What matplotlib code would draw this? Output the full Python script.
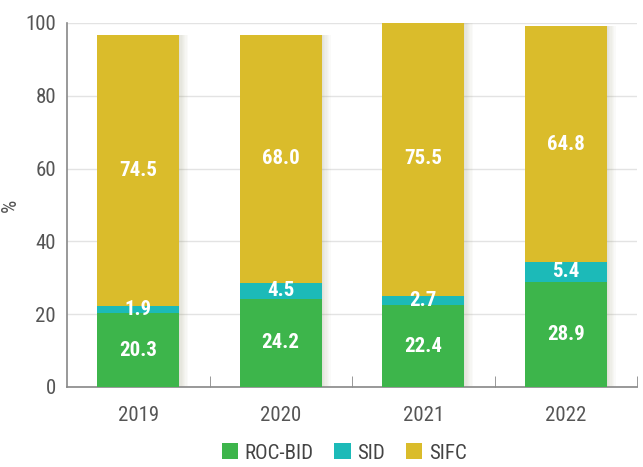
import matplotlib
matplotlib.use("Agg")
import matplotlib.pyplot as plt
from matplotlib import font_manager
import numpy as np

years = ["2019", "2020", "2021", "2022"]
roc_bid = [20.3, 24.2, 22.4, 28.9]
sid = [1.9, 4.5, 2.7, 5.4]
sifc = [74.5, 68.0, 75.5, 64.8]

series = [("ROC-BID", roc_bid, "#3db54b"),
          ("SID", sid, "#1cbab8"),
          ("SIFC", sifc, "#dabc2b")]

# pick a narrow font if one is installed
installed = {f.name for f in font_manager.fontManager.ttflist}
font = "DejaVu Sans"
for name in ["Liberation Sans Narrow", "Roboto Condensed", "Open Sans Condensed", "Roboto", "Noto Sans"]:
    if name in installed:
        font = name
        break
plt.rcParams["font.family"] = [font, "DejaVu Sans"]

gray = "#555555"
fig = plt.figure(figsize=(6.43, 4.67), dpi=100)
ax = fig.add_axes([67 / 643, 80 / 467, 570 / 643, 364 / 467])

x = np.arange(len(years))
width = 0.573
bottom = np.zeros(len(years))

for label, vals, color in series:
    vals = np.array(vals)
    # soft shadow to the right of each bar
    for k in range(1, 8):
        ax.bar(x + k * 0.009, vals, width, bottom=bottom, color="#8a8a60",
               alpha=0.035, linewidth=0, zorder=2)
    ax.bar(x, vals, width, bottom=bottom, color=color, label=label,
           linewidth=0, zorder=3)
    for xi, b, v in zip(x, bottom, vals):
        ax.text(xi, b + v / 2, f"{v:.1f}", ha="center", va="center",
                color="white", fontsize=15, fontweight="bold", zorder=4)
    bottom = bottom + vals

ax.set_xlim(-0.5, len(years) - 0.5)
ax.set_ylim(0, 100)
ax.set_yticks([0, 20, 40, 60, 80, 100])
ax.set_xticks(x)
ax.set_xticklabels(years)
ax.set_xticks(np.arange(-0.5, len(years), 1.0)[1:], minor=True)
ax.tick_params(axis="x", which="major", length=0, pad=14, labelsize=15, labelcolor=gray)
ax.tick_params(axis="x", which="minor", length=8, direction="in", color="#888888")
ax.tick_params(axis="y", length=0, pad=8, labelsize=15, labelcolor=gray)
ax.yaxis.grid(True, color="#e3e3e3", linewidth=1)
ax.set_axisbelow(True)
for s in ["top", "right"]:
    ax.spines[s].set_visible(False)
for s in ["left", "bottom"]:
    ax.spines[s].set_color("#888888")
    ax.spines[s].set_linewidth(1.2)
ax.set_ylabel("%", fontsize=15, color=gray)
ax.yaxis.set_label_coords(-0.082, 0.5)

handles, labels = ax.get_legend_handles_labels()
fig.legend(handles, labels, loc="center", bbox_to_anchor=(0.535, 0.03), ncol=3,
           frameon=False, fontsize=15, handlelength=0.8, handleheight=0.8,
           handletextpad=0.3, columnspacing=1.0, labelcolor="#444444")

fig.savefig("out.png", dpi=100)
